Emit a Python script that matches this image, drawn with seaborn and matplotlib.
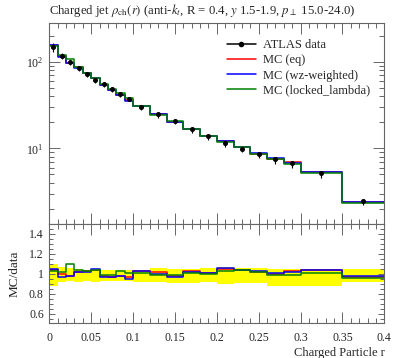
import matplotlib
matplotlib.use("Agg")
import matplotlib.pyplot as plt
from matplotlib.lines import Line2D
from matplotlib.ticker import MultipleLocator, FixedLocator, FuncFormatter
import numpy as np
import pandas as pd
import seaborn as sns

# bin edges of the charged particle r distribution
edges = [0.0, 0.01, 0.02, 0.03, 0.04, 0.05, 0.06, 0.07, 0.08, 0.09, 0.10,
         0.12, 0.14, 0.16, 0.18, 0.20, 0.22, 0.24, 0.26, 0.28, 0.30, 0.35, 0.40]

# ATLAS data
data_vals = [148, 117, 99, 84.5, 72, 61.8, 55.5, 48.6, 42.5, 37.5, 30.2,
             24.8, 20.8, 16.5, 13.8, 11.5, 9.9, 8.5, 7.6, 6.7, 5.16, 2.45]
# relative data uncertainty (yellow band), up / down
err_up = [0.10, 0.068, 0.058, 0.051, 0.041, 0.051, 0.034, 0.034, 0.041, 0.041, 0.041,
          0.058, 0.051, 0.045, 0.058, 0.068, 0.058, 0.058, 0.045, 0.051, 0.051, 0.051]
err_dn = [0.12, 0.086, 0.069, 0.079, 0.069, 0.079, 0.069, 0.069, 0.069, 0.072, 0.079,
          0.086, 0.093, 0.096, 0.086, 0.103, 0.093, 0.096, 0.127, 0.12, 0.12, 0.085]

# MC / data ratios
ratio_eq = [1.04, 1.00, 0.98, 1.02, 1.024, 1.035, 0.98, 0.965, 0.98, 0.965, 1.03,
            1.015, 0.98, 1.025, 1.006, 1.05, 1.035, 1.02, 1.00, 1.027, 1.04, 0.97]
ratio_wz = [1.047, 0.965, 0.975, 1.013, 1.02, 1.05, 0.97, 0.965, 0.975, 0.95, 1.03,
            1.00, 0.97, 1.02, 1.006, 1.057, 1.04, 1.026, 1.01, 1.02, 1.04, 0.98]
ratio_ll = [1.024, 1.017, 1.095, 1.04, 1.027, 1.035, 0.99, 0.99, 1.03, 1.01, 1.01,
            0.99, 0.99, 1.01, 1.0, 1.03, 1.04, 1.013, 0.99, 0.99, 1.005, 0.955]

gen_names = ['MC (eq)', 'MC (wz-weighted)', 'MC (locked_lambda)']
gen_colors = ['#ff0000', '#0000ff', '#008000']

sns.set_theme(style='ticks')
plt.rcParams['font.family'] = ['Liberation Serif', 'DejaVu Serif']
plt.rcParams['mathtext.fontset'] = 'stix'

edges_a = np.array(edges)
data_a = np.array(data_vals)
centers = 0.5 * (edges_a[1:] + edges_a[:-1])
widths = np.diff(edges_a)
up = np.array(err_up)
dn = np.array(err_dn)

# long tables for the step lines (last value repeated for steps-post)
rows_main = []
rows_ratio = []
for name, rat in zip(gen_names, [ratio_eq, ratio_wz, ratio_ll]):
    rat = list(rat)
    mc = list(data_a * np.array(rat))
    for x, y, r in zip(edges, mc + [mc[-1]], rat + [rat[-1]]):
        rows_main.append({'r': x, 'val': y, 'gen': name})
        rows_ratio.append({'r': x, 'val': r, 'gen': name})
df_main = pd.DataFrame(rows_main)
df_ratio = pd.DataFrame(rows_ratio)
pal = dict(zip(gen_names, gen_colors))

fig = plt.figure(figsize=(3.97, 3.58), dpi=100)
ax = fig.add_axes([0.1242, 0.3743, 0.8438, 0.5606])
rax = fig.add_axes([0.1242, 0.0964, 0.8438, 0.2779], sharex=ax)

sns.lineplot(data=df_main, x='r', y='val', hue='gen', palette=pal, ax=ax,
             drawstyle='steps-post', estimator=None, errorbar=None,
             linewidth=1.1, legend=False)
ax.errorbar(centers, data_a, yerr=[data_a * dn, data_a * up], fmt='o', ms=2.6,
            color='black', ecolor='black', elinewidth=0.8, capsize=0, zorder=5)

rax.bar(edges_a[:-1], up + dn, bottom=1 - dn, width=widths, align='edge',
        color='#ffff00', linewidth=0, zorder=0)
sns.lineplot(data=df_ratio, x='r', y='val', hue='gen', palette=pal, ax=rax,
             drawstyle='steps-post', estimator=None, errorbar=None,
             linewidth=1.1, legend=False)

ax.set_yscale('log')
ax.set_ylim(1.34, 277)
ax.set_xlim(0, 0.4)
rax.set_ylim(0.5, 1.5)

for a in (ax, rax):
    a.xaxis.set_major_locator(MultipleLocator(0.05))
    a.xaxis.set_minor_locator(MultipleLocator(0.01))
    a.tick_params(which='both', direction='in', top=True, right=True,
                  color='0.4', width=0.7, labelsize=8.5, pad=4)
    a.tick_params(which='major', length=8)
    a.tick_params(which='minor', length=3.5)
    for sp in a.spines.values():
        sp.set_color('0.4')
        sp.set_linewidth(0.8)
    a.set_xlabel('')
    a.set_ylabel('')

ax.tick_params(labelbottom=False)
rax.tick_params(which='major', axis='y', length=4.5)
rax.tick_params(which='minor', axis='y', length=3)
rax.tick_params(axis='x', pad=6)
rax.yaxis.set_major_locator(FixedLocator([0.6, 0.8, 1.0, 1.2, 1.4]))
rax.yaxis.set_minor_locator(MultipleLocator(0.05))
rax.yaxis.set_major_formatter(FuncFormatter(lambda v, p: '%g' % v))
rax.xaxis.set_major_formatter(FuncFormatter(lambda v, p: '%g' % round(v, 3)))

ax.set_title(r'Charged jet $\rho_{\rm ch}(r)$ (anti-$k_t$, R = 0.4, $y$ 1.5-1.9, '
             r'$p_\perp$ 15.0-24.0)', loc='left', fontsize=9.2, pad=7)
rax.set_xlabel('Charged Particle r', loc='right', fontsize=9, labelpad=2)
rax.set_ylabel('MC/data', fontsize=9.5, labelpad=6)

handles = [Line2D([], [], color='black', marker='o', ms=3, lw=1.1)]
handles += [Line2D([], [], color=c, lw=1.1) for c in gen_colors]
ax.legend(handles, ['ATLAS data'] + gen_names, loc='upper left',
          bbox_to_anchor=(0.53, 0.92), frameon=False, fontsize=9,
          handlelength=2.3, handletextpad=0.6, labelspacing=0.25,
          borderpad=0, borderaxespad=0)

fig.savefig('out.png', dpi=100)
